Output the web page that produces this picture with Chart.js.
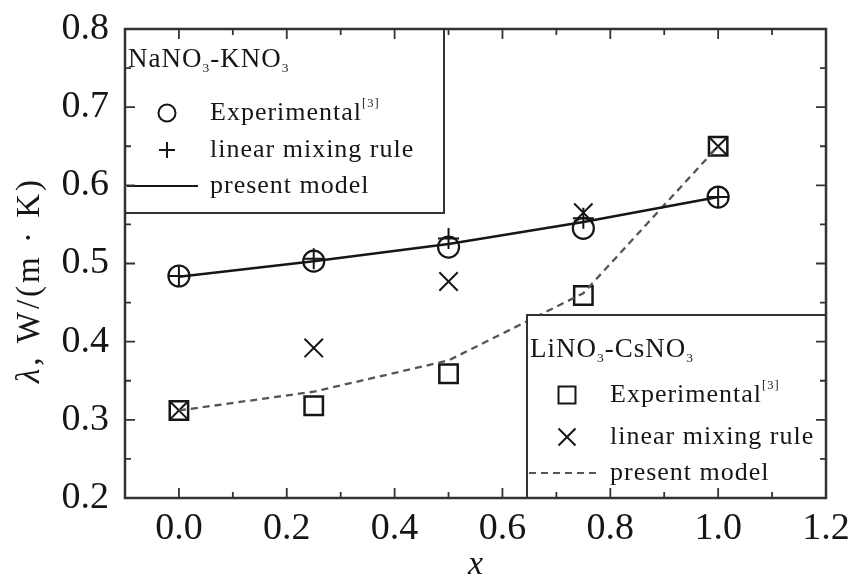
<!DOCTYPE html>
<html>
<head>
<meta charset="utf-8">
<script src="https://cdn.jsdelivr.net/npm/chart.js@4.4.1/dist/chart.umd.min.js"></script>
<style>
  html, body { margin: 0; padding: 0; background: #fff; }
</style>
</head>
<body>
<canvas id="chart" width="851" height="584"></canvas>
<script>
// mole fraction x
const xVals = [0, 0.25, 0.5, 0.75, 1.0];

// NaNO3-KNO3
const naExperimental = [0.484, 0.503, 0.521, 0.545, 0.585];
const naLinearRule   = [0.484, 0.506, 0.532, 0.558, 0.585];
const naModel        = [0.483, 0.503, 0.525, 0.553, 0.585];

// LiNO3-CsNO3
const liExperimental = [0.312, 0.318, 0.359, 0.459, 0.650];
const liLinearRule   = [0.312, 0.392, 0.477, 0.565, 0.650];
const liModel        = [0.312, 0.336, 0.376, 0.462, 0.650];

// axis ticks
const xTicks = [0, 0.2, 0.4, 0.6, 0.8, 1.0, 1.2];
const xMinor = [0.1, 0.3, 0.5, 0.7, 0.9, 1.1];
const yTicks = [0.2, 0.3, 0.4, 0.5, 0.6, 0.7, 0.8];
const yMinor = [0.25, 0.35, 0.45, 0.55, 0.65, 0.75];

const INK = '#161616';
const FRAME = '#333';
const SERIF = '"Liberation Serif", "Times New Roman", serif';

const pts = arr => arr.map((v, i) => ({ x: xVals[i], y: v }));

// text with sub/superscripts
function richText(ctx, parts, x, y, size) {
    let cx = x;
    parts.forEach(p => {
        let s = size, dy = 0;
        if (p.sub) { s = size * 0.5; dy = size * 0.32; }
        if (p.sup) { s = size * 0.48; dy = -size * 0.36; }
        ctx.font = s + 'px ' + SERIF;
        ctx.fillText(p.t, cx, y + dy);
        cx += ctx.measureText(p.t).width;
    });
}

function legendBox(ctx, box, title, rows) {
    ctx.save();
    ctx.fillStyle = '#fff';
    ctx.fillRect(box.x, box.y, box.w, box.h);
    ctx.strokeStyle = FRAME;
    ctx.lineWidth = 2;
    ctx.strokeRect(box.x, box.y, box.w, box.h);
    ctx.fillStyle = INK;
    ctx.textBaseline = 'middle';
    ctx.letterSpacing = '1px';
    richText(ctx, title, box.x + 3, box.titleY, 27);
    rows.forEach(r => {
        ctx.strokeStyle = r.color || INK;
        if (r.line) {
            ctx.lineWidth = r.lineWidth;
            ctx.setLineDash(r.dash || []);
            ctx.beginPath();
            ctx.moveTo(box.x + 2, r.y);
            ctx.lineTo(box.x + 73, r.y);
            ctx.stroke();
            ctx.setLineDash([]);
        } else {
            ctx.fillStyle = 'rgba(0,0,0,0)';
            Chart.helpers.drawPoint(ctx, r.point, box.symX, r.y);
        }
        ctx.fillStyle = INK;
        richText(ctx, r.text, box.textX, r.y, 26);
    });
    ctx.restore();
}

const framePlugin = {
    id: 'frame',
    afterDatasetsDraw(chart) {
        const { ctx, chartArea: a, scales: { x, y } } = chart;
        ctx.save();

        legendBox(ctx, { x: a.left, y: a.top, w: 319, h: 184, titleY: 60, symX: 167, textX: 210 },
            [{ t: 'NaNO' }, { t: '3', sub: true }, { t: '-KNO' }, { t: '3', sub: true }],
            [
                { y: 113, point: { pointStyle: 'circle', radius: 8.5, borderWidth: 2.2 }, text: [{ t: 'Experimental' }, { t: '[3]', sup: true }] },
                { y: 150, point: { pointStyle: 'cross', radius: 8, borderWidth: 2.5 }, text: [{ t: 'linear mixing rule' }] },
                { y: 186, line: true, lineWidth: 2, text: [{ t: 'present model' }] }
            ]);

        legendBox(ctx, { x: 527, y: 315, w: a.right - 527, h: a.bottom - 315, titleY: 350, symX: 567, textX: 610 },
            [{ t: 'LiNO' }, { t: '3', sub: true }, { t: '-CsNO' }, { t: '3', sub: true }],
            [
                { y: 395, point: { pointStyle: 'rect', radius: 12, borderWidth: 2.5 }, text: [{ t: 'Experimental' }, { t: '[3]', sup: true }] },
                { y: 437, point: { pointStyle: 'crossRot', radius: 12, borderWidth: 2 }, text: [{ t: 'linear mixing rule' }] },
                { y: 473, line: true, lineWidth: 2, dash: [7, 5], color: '#555', text: [{ t: 'present model' }] }
            ]);

        // frame with inward ticks
        ctx.strokeStyle = FRAME;
        ctx.lineWidth = 2.5;
        ctx.strokeRect(a.left, a.top, a.right - a.left, a.bottom - a.top);
        ctx.lineWidth = 1.8;
        ctx.beginPath();
        const xt = (v, len) => {
            const px = x.getPixelForValue(v);
            ctx.moveTo(px, a.bottom); ctx.lineTo(px, a.bottom - len);
            ctx.moveTo(px, a.top); ctx.lineTo(px, a.top + len);
        };
        const yt = (v, len) => {
            const py = y.getPixelForValue(v);
            ctx.moveTo(a.left, py); ctx.lineTo(a.left + len, py);
            ctx.moveTo(a.right, py); ctx.lineTo(a.right - len, py);
        };
        xTicks.forEach(v => xt(v, 10));
        xMinor.forEach(v => xt(v, 6));
        yTicks.forEach(v => yt(v, 10));
        yMinor.forEach(v => yt(v, 6));
        ctx.stroke();

        // axis titles
        ctx.fillStyle = INK;
        ctx.textAlign = 'center';
        ctx.textBaseline = 'middle';
        ctx.font = 'italic 34px ' + SERIF;
        ctx.fillText('x', (a.left + a.right) / 2, 565);

        ctx.translate(30, 280);
        ctx.rotate(-Math.PI / 2);
        ctx.textAlign = 'left';
        ctx.letterSpacing = '3px';
        ctx.font = 'italic 33px ' + SERIF;
        const w1 = ctx.measureText('λ').width;
        ctx.font = '33px ' + SERIF;
        const w2 = ctx.measureText(', W/(m · K)').width;
        const start = -(w1 + w2) / 2;
        ctx.font = 'italic 33px ' + SERIF;
        ctx.fillText('λ', start, 0);
        ctx.font = '33px ' + SERIF;
        ctx.fillText(', W/(m · K)', start + w1, 0);
        ctx.restore();
    }
};

const marker = (style, radius, width) => ({
    showLine: false,
    pointStyle: style,
    pointRadius: radius,
    pointBorderWidth: width,
    pointBorderColor: INK,
    pointBackgroundColor: 'rgba(0,0,0,0)'
});

const noPad = s => { s.paddingTop = 0; s.paddingBottom = 0; s.paddingLeft = 0; s.paddingRight = 0; };

new Chart(document.getElementById('chart'), {
    type: 'scatter',
    data: {
        datasets: [
            { label: 'NaNO3-KNO3 present model', data: pts(naModel), showLine: true, borderColor: INK, borderWidth: 2.5, pointRadius: 0, tension: 0 },
            { label: 'NaNO3-KNO3 Experimental', data: pts(naExperimental), ...marker('circle', 10.5, 2.2) },
            { label: 'NaNO3-KNO3 linear mixing rule', data: pts(naLinearRule), ...marker('cross', 10.5, 2) },
            { label: 'LiNO3-CsNO3 present model', data: pts(liModel), showLine: true, borderColor: '#555', borderWidth: 2.3, borderDash: [7, 5], pointRadius: 0, tension: 0 },
            { label: 'LiNO3-CsNO3 Experimental', data: pts(liExperimental), ...marker('rect', 13, 2.5) },
            { label: 'LiNO3-CsNO3 linear mixing rule', data: pts(liLinearRule), ...marker('crossRot', 13, 2) }
        ]
    },
    options: {
        responsive: false,
        animation: false,
        devicePixelRatio: 1,
        layout: { padding: { top: 29, right: 25, left: 0, bottom: 0 } },
        plugins: {
            legend: { display: false },
            tooltip: { enabled: false }
        },
        scales: {
            x: {
                type: 'linear',
                min: -0.1,
                max: 1.2,
                afterBuildTicks: s => { s.ticks = xTicks.map(v => ({ value: v })); },
                afterFit: s => { s.height = 86; noPad(s); },
                grid: { display: false },
                border: { display: false },
                ticks: {
                    padding: 0,
                    color: INK,
                    autoSkip: false,
                    maxRotation: 0,
                    font: { family: SERIF, size: 38 },
                    callback: v => Number(v).toFixed(1)
                }
            },
            y: {
                type: 'linear',
                min: 0.2,
                max: 0.8,
                afterBuildTicks: s => { s.ticks = yTicks.map(v => ({ value: v })); },
                afterFit: s => { s.width = 125; noPad(s); },
                grid: { display: false },
                border: { display: false },
                ticks: {
                    padding: 8,
                    color: INK,
                    font: { family: SERIF, size: 38 },
                    callback: v => Number(v).toFixed(1)
                }
            }
        }
    },
    plugins: [framePlugin]
});
</script>
</body>
</html>
